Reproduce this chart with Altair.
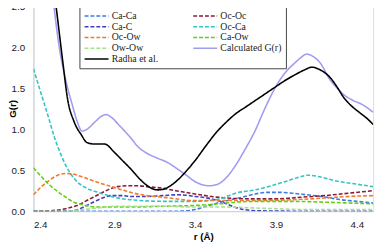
import altair as alt
import pandas as pd

series_names = ["Ca-Ca", "Oc-Oc", "Ca-C", "Oc-Ca", "Oc-Ow", "Ca-Ow", "Ow-Ow",
                "Calculated G(r)", "Radha et al."]
series_colors = ["#3a7fdc", "#8b1a33", "#3f3fc0", "#33c4c4", "#f07b2e", "#66cc11",
                 "#a6e08c", "#a09cf0", "#000000"]

ca_ca_r = [2.4, 3.3, 3.4, 3.485, 3.6, 3.69, 3.77, 3.85, 3.92, 4.0, 4.09, 4.18, 4.3, 4.4, 4.5]
ca_ca_g = [0.0, 0.0, 0.02, 0.07, 0.13, 0.17, 0.21, 0.23, 0.23, 0.22, 0.20, 0.18, 0.14, 0.12, 0.10]

oc_oc_r = [2.4, 2.5, 2.6, 2.67, 2.74, 2.8, 2.86, 2.92, 2.98, 3.05, 3.1, 3.2, 3.28, 3.4, 3.5,
           3.6, 3.75, 3.9, 4.05, 4.2, 4.35, 4.5]
oc_oc_g = [0.0, 0.005, 0.03, 0.07, 0.14, 0.20, 0.26, 0.30, 0.31, 0.31, 0.30, 0.28, 0.25, 0.21,
           0.18, 0.16, 0.15, 0.15, 0.17, 0.19, 0.22, 0.25]

ca_c_r = [2.4, 2.6, 2.66, 2.72, 2.78, 2.84, 2.88, 2.95, 3.0, 3.1, 3.2, 3.3, 3.4, 3.5, 3.57,
          3.63, 3.7, 3.78, 4.0, 4.5]
ca_c_g = [0.0, 0.0, 0.01, 0.06, 0.12, 0.17, 0.19, 0.19, 0.18, 0.18, 0.19, 0.20, 0.18, 0.15,
          0.11, 0.06, 0.02, 0.005, 0.0, 0.0]

oc_ca_r = [2.4, 2.45, 2.497, 2.53, 2.56, 2.6, 2.66, 2.72, 2.8, 2.9, 3.0, 3.2, 3.4, 3.55, 3.65,
           3.77, 3.87, 3.97, 4.05, 4.1, 4.17, 4.27, 4.4, 4.5]
oc_ca_g = [1.74, 1.42, 1.12, 0.90, 0.74, 0.56, 0.38, 0.29, 0.23, 0.17, 0.14, 0.12, 0.12, 0.15,
           0.22, 0.26, 0.31, 0.37, 0.42, 0.44, 0.42, 0.37, 0.33, 0.30]

oc_ow_r = [2.4, 2.45, 2.5, 2.55, 2.6, 2.65, 2.7, 2.8, 2.9, 3.0, 3.1, 3.2, 3.4, 3.6, 3.8, 4.0,
           4.2, 4.35, 4.5]
oc_ow_g = [0.20, 0.30, 0.38, 0.44, 0.46, 0.45, 0.42, 0.35, 0.29, 0.23, 0.19, 0.17, 0.13, 0.13,
           0.13, 0.14, 0.16, 0.18, 0.19]

ca_ow_r = [2.4, 2.45, 2.5, 2.55, 2.6, 2.65, 2.7, 2.8, 2.9, 3.0, 3.2, 3.4, 3.55, 3.65, 3.8, 4.0,
           4.2, 4.35, 4.5]
ca_ow_g = [0.53, 0.42, 0.32, 0.24, 0.17, 0.11, 0.08, 0.05, 0.05, 0.05, 0.06, 0.07, 0.09, 0.11,
           0.12, 0.12, 0.11, 0.10, 0.09]

ow_ow_r = [2.4, 2.6, 2.7, 2.8, 2.9, 3.0, 3.2, 3.4, 3.6, 3.75, 3.9, 4.1, 4.3, 4.5]
ow_ow_g = [0.0, 0.0, 0.02, 0.04, 0.06, 0.06, 0.06, 0.05, 0.05, 0.04, 0.03, 0.02, 0.02, 0.02]

calc_r = [2.5, 2.527, 2.56, 2.6, 2.64, 2.67, 2.7, 2.73, 2.78, 2.82, 2.85, 2.88, 2.93, 3.0,
          3.05, 3.1, 3.164, 3.224, 3.28, 3.345, 3.4, 3.45, 3.485, 3.54, 3.588, 3.65, 3.71,
          3.77, 3.83, 3.91, 3.96, 4.01, 4.05, 4.09, 4.13, 4.17, 4.236, 4.28, 4.315, 4.37,
          4.436, 4.5]
calc_g = [3.0, 2.5, 2.0, 1.6, 1.3, 1.1, 0.98, 1.0, 1.09, 1.16, 1.18, 1.15, 1.05, 0.90, 0.78,
          0.71, 0.65, 0.60, 0.53, 0.44, 0.36, 0.32, 0.31, 0.33, 0.40, 0.56, 0.76, 0.98, 1.25,
          1.56, 1.70, 1.80, 1.87, 1.92, 1.89, 1.82, 1.60, 1.50, 1.43, 1.36, 1.30, 1.21]

radha_r = [2.5, 2.54, 2.58, 2.612, 2.65, 2.697, 2.73, 2.78, 2.84, 2.9, 2.95, 3.0, 3.08, 3.13,
           3.17, 3.22, 3.28, 3.345, 3.4, 3.467, 3.53, 3.588, 3.65, 3.71, 3.77, 3.83, 3.89,
           3.95, 4.02, 4.08, 4.12, 4.17, 4.236, 4.28, 4.315, 4.37, 4.42, 4.47, 4.5]
radha_g = [3.1, 2.5, 1.85, 1.36, 1.1, 0.93, 0.84, 0.82, 0.82, 0.72, 0.62, 0.52, 0.35, 0.28,
           0.26, 0.28, 0.36, 0.49, 0.62, 0.80, 0.96, 1.08, 1.19, 1.27, 1.35, 1.43, 1.51, 1.59,
           1.67, 1.73, 1.76, 1.73, 1.63, 1.51, 1.40, 1.28, 1.20, 1.12, 1.06]

x_ticks = [2.4, 2.9, 3.4, 3.9, 4.4]
y_ticks = [0, 0.5, 1, 1.5, 2, 2.5]

all_series = [
    ("Ca-Ca", ca_ca_r, ca_ca_g), ("Oc-Oc", oc_oc_r, oc_oc_g), ("Ca-C", ca_c_r, ca_c_g),
    ("Oc-Ca", oc_ca_r, oc_ca_g), ("Oc-Ow", oc_ow_r, oc_ow_g), ("Ca-Ow", ca_ow_r, ca_ow_g),
    ("Ow-Ow", ow_ow_r, ow_ow_g), ("Calculated G(r)", calc_r, calc_g),
    ("Radha et al.", radha_r, radha_g),
]
rows = []
for name, rs, gs in all_series:
    for r, g in zip(rs, gs):
        rows.append({"series": name, "r": r, "G": g})
df = pd.DataFrame(rows)

dashes = [[4, 2]] * 7 + [[1, 0], [1, 0]]
widths = [1.6] * 7 + [1.5, 2.0]

x_enc = alt.X("r:Q", scale=alt.Scale(domain=[2.4, 4.5], nice=False, zero=False),
              axis=alt.Axis(values=x_ticks, title="r (Å)", format=".1f", grid=False,
                            ticks=False, domainColor="#d0d0d0", labelPadding=9,
                            labelFont="Liberation Sans", labelFontSize=10, labelColor="#222",
                            titleFont="Liberation Sans", titleFontSize=10,
                            titleFontWeight="bold", titlePadding=2))
y_enc = alt.Y("G:Q", scale=alt.Scale(domain=[0, 2.5], nice=False),
              axis=alt.Axis(values=y_ticks, title="G(r)", grid=False, ticks=False,
                            domainColor="#c4d2da", labelPadding=9,
                            labelFont="Liberation Sans", labelFontSize=10, labelColor="#222",
                            titleFont="Liberation Sans", titleFontSize=10,
                            titleFontWeight="bold", titleX=-21, titleY=104,
                            titleAngle=270, titleAlign="center", titleBaseline="middle"))

color_enc = alt.Color("series:N",
                      scale=alt.Scale(domain=series_names, range=series_colors),
                      sort=series_names,
                      legend=alt.Legend(title=None, orient="none", legendX=47, legendY=0,
                                        columns=2, direction="horizontal",
                                        symbolType="stroke", symbolSize=600,
                                        symbolStrokeWidth=1.6, clipHeight=11,
                                        labelFont="Liberation Serif", labelFontSize=10,
                                        labelColor="#222", labelOffset=2,
                                        columnPadding=34, rowPadding=0,
                                        padding=4, strokeColor="#444",
                                        fillColor="white"))
dash_enc = alt.StrokeDash("series:N", scale=alt.Scale(domain=series_names, range=dashes),
                          sort=series_names, legend=None)
width_enc = alt.StrokeWidth("series:N", scale=alt.Scale(domain=series_names, range=widths),
                            sort=series_names, legend=None)

base = alt.Chart(df)
dashed = base.transform_filter(
    alt.FieldOneOfPredicate(field="series", oneOf=series_names[:7])
).mark_line(clip=True, interpolate="monotone").encode(
    x=x_enc, y=y_enc, color=color_enc, strokeDash=dash_enc, strokeWidth=width_enc)
calc = base.transform_filter(alt.datum.series == "Calculated G(r)").mark_line(
    clip=True, interpolate="monotone").encode(
    x=x_enc, y=y_enc, color=color_enc, strokeDash=dash_enc, strokeWidth=width_enc)
radha = base.transform_filter(alt.datum.series == "Radha et al.").mark_line(
    clip=True, interpolate="monotone").encode(
    x=x_enc, y=y_enc, color=color_enc, strokeDash=dash_enc, strokeWidth=width_enc)

chart = alt.layer(dashed, calc, radha).properties(
    width=347, height=209,
    autosize=alt.AutoSizeParams(type="none"),
    padding={"left": 26, "top": -4, "right": 2, "bottom": 33},
).configure_view(stroke="#9a9a9a", strokeWidth=1).configure(background="white")

chart.save("out.html", embed_options={"renderer": "svg", "actions": False})
